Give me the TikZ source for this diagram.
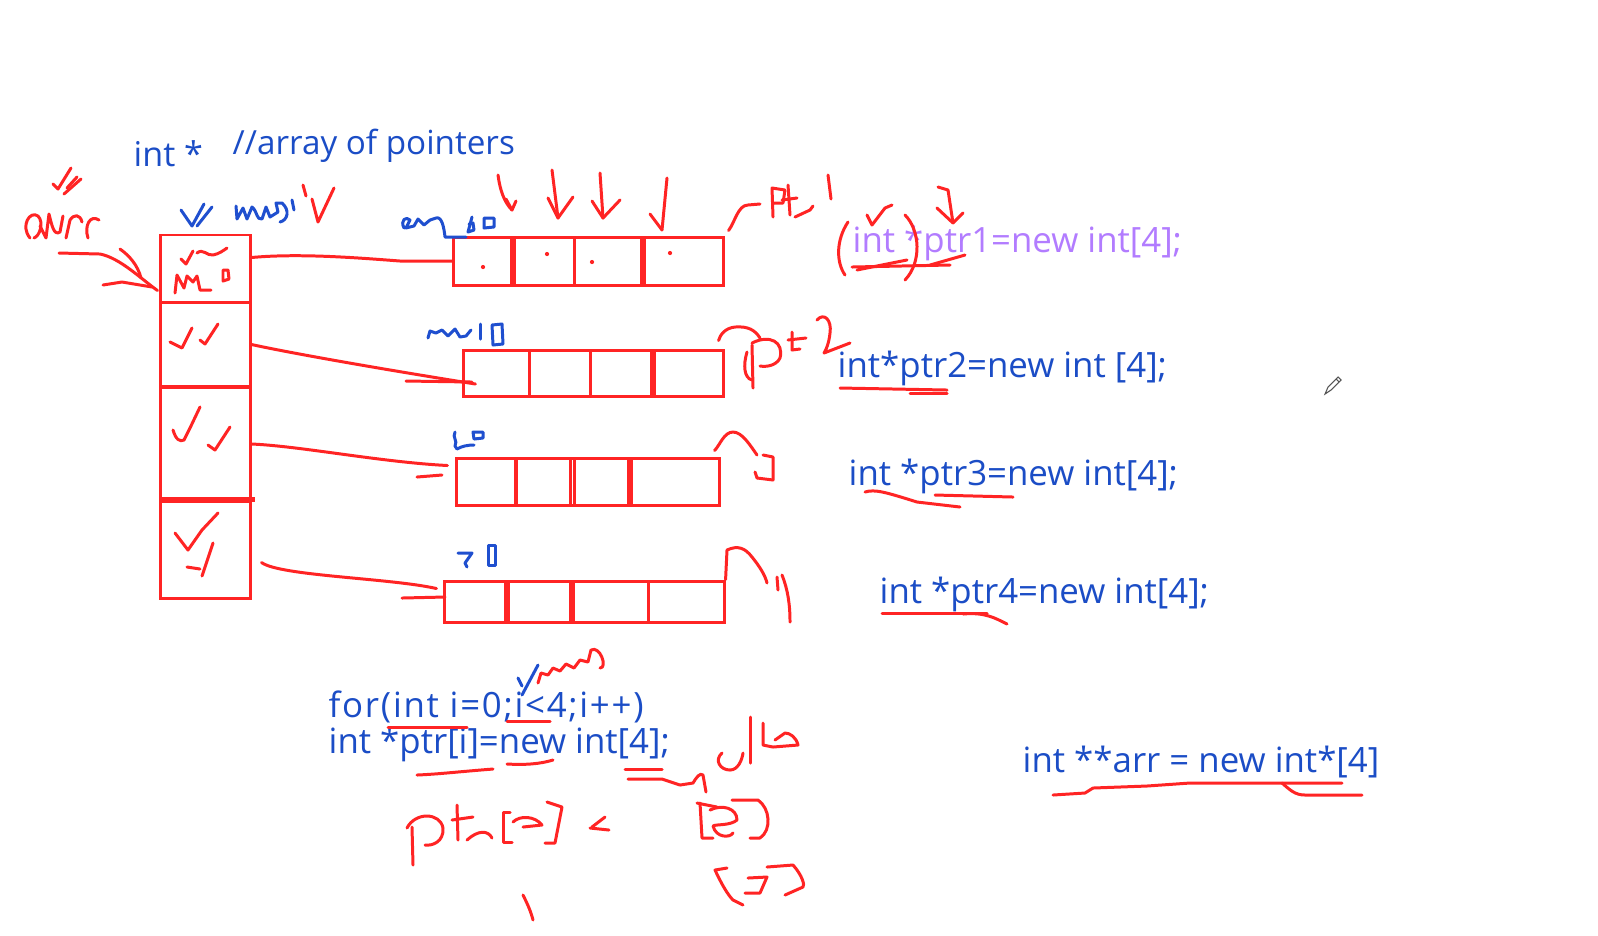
\documentclass[tikz,border=0pt]{standalone}
\usepackage{fontspec}
\setmainfont{Open Sans}
\usetikzlibrary{calc}
\definecolor{inkRed}{HTML}{FF2424}
\definecolor{inkBlue}{HTML}{1F4FCF}
\definecolor{codeBlue}{HTML}{1B4DC6}
\definecolor{codePurple}{HTML}{B27CFF}
\definecolor{cursorGray}{HTML}{555555}
\tikzset{
    cellbox/.style={draw=inkRed,line width=0.85pt,inner sep=0pt,minimum width=0.89cm},
    arraybox/.style={draw=inkRed,line width=0.85pt,inner sep=0pt},
    divider/.style={draw=inkRed,line width=0.85pt},
    ink/.style={draw=inkRed,line width=0.85pt,line cap=round,line join=round},
    blueink/.style={draw=inkBlue,line width=0.85pt,line cap=round,line join=round},
    codetext/.style={anchor=base west,inner sep=0pt,text=codeBlue,
        font=\fontsize{9.9}{12}\selectfont}
}
\begin{document}
\begin{tikzpicture}[x=0.01cm,y=-0.01cm]
    \useasboundingbox[fill=white] (0,0) rectangle (1598,935);

    % typed text
    \node[codetext,font=\fontsize{9.7}{12}\selectfont] (hdrInt) at (133,166) {int *};
    \node[codetext,font=\fontsize{9.45}{12}\selectfont] (hdrNote) at (232,154) {//array of pointers};
    \node[codetext,text=codePurple] (declOne) at (852,252) {int *ptr1=new int[4];};
    \node[codetext] (declTwo) at (837,377) {int*ptr2=new int [4];};
    \node[codetext] (declThree) at (848,485) {int *ptr3=new int[4];};
    \node[codetext] (declFour) at (879,603) {int *ptr4=new int[4];};
    \node[codetext,font=\fontsize{9.9}{12}\selectfont\addfontfeature{LetterSpace=5}] (loopHead) at (328,717) {for(int i=0;i<4;i++)};
    \node[codetext] (loopBody) at (328,753) {int *ptr[i]=new int[4];};
    \node[codetext] (arrDecl) at (1022,772) {int **arr = new int*[4]};

    % pointer column
    \node[cellbox,minimum height=0.67cm] (cellA) at (205.5,268.5) {};
    \node[cellbox,minimum height=0.85cm] (cellB) at (205.5,344.5) {};
    \node[cellbox,minimum height=1.14cm] (cellC) at (205.5,444) {};
    \node[cellbox,minimum height=0.97cm] (cellD) at (205.5,549.5) {};
    \draw[divider,line width=1.6pt] (cellD.north west) -- ($(cellD.north east)+(3,0)$);

    % int arrays
    \node[arraybox,minimum width=2.69cm,minimum height=0.48cm] (arrA) at (588.5,261) {};
    \node[arraybox,minimum width=2.59cm,minimum height=0.46cm] (arrB) at (593.5,373) {};
    \node[arraybox,minimum width=2.62cm,minimum height=0.47cm] (arrC) at (588,481.5) {};
    \node[arraybox,minimum width=2.79cm,minimum height=0.41cm] (arrD) at (584.5,601.5) {};
    \foreach \xd/\w in {513/1.8,574/0.85,643/1.8}
        \draw[divider,line width=\w pt] (\xd,237) -- (\xd,287);
    \foreach \xd/\w in {529/0.85,590/0.85,653/1.8}
        \draw[divider,line width=\w pt] (\xd,350) -- (\xd,398);
    \foreach \xd/\w in {516/1.2,570/0.85,574/0.85,630/1.8}
        \draw[divider,line width=\w pt] (\xd,458) -- (\xd,507);
    \foreach \xd/\w in {507/1.8,572/1.8,648/0.85}
        \draw[divider,line width=\w pt] (\xd,581) -- (\xd,622);
    \foreach \p in {(483,267),(547,254),(592,262),(670,253)}
        \fill[inkRed] \p circle[radius=0.6pt];

    % connectors
    \draw[ink] ($(cellA.east)+(0,-11)$) .. controls (300,253) and (360,258) .. (400,261) -- (arrA.west);
    \draw[ink] (cellB.east) .. controls (300,355) and (400,372) .. ($(arrB.west)+(13,11)$);
    \draw[ink] (406,381) -- (472,382);
    \draw[ink] (cellC.east) .. controls (300,446) and (380,462) .. ($(arrC.west)+(-8,-16)$);
    \draw[ink] (417,477) -- (442,475);
    \draw[ink] ($(cellD.east)+(10,13)$) .. controls (280,576) and (390,578) .. ($(arrD.west)+(-7,-13)$);
    \draw[ink] (402,598) -- (445,597);

    % arr label and arrow
    \draw[ink] (30,238) .. controls (20,226) and (30,210) .. (38,216) .. controls (44,222) and (40,236) .. (34,238);
    \draw[ink] (40,226) -- (46,238) -- (49,214) .. controls (52,226) and (54,236) .. (60,232) -- (63,216);
    \draw[ink] (66,238) -- (70,220) .. controls (74,214) and (80,214) .. (82,222);
    \draw[ink] (88,238) .. controls (84,226) and (90,214) .. (99,220);
    \draw[ink] (53,184) -- (58,189) -- (71,168);
    \draw[ink] (64,194) -- (81,179);
    \draw[ink] (67,188) -- (77,177);
    \draw[ink] (59,253) -- (100,254) .. controls (120,258) and (140,278) .. ($(cellA.south west)+(-2,-13)$);
    \draw[ink] (120,249) .. controls (130,256) and (138,266) .. (141,278);
    \draw[ink] (103,285) -- (122,282) -- (152,287);

    % rows note
    \draw[blueink] (181,210) -- (192,226) -- (204,204);
    \draw[blueink] (197,226) -- (212,207);
    \draw[blueink] (236,206) -- (237,219) -- (243,208) -- (247,219) -- (252,207) .. controls (258,212) and (256,220) .. (262,219) -- (266,207) -- (270,217) -- (278,212) -- (276,203) -- (282,203) .. controls (290,210) and (288,220) .. (280,222);
    \draw[blueink] (292,200) -- (294,210);
    \draw[ink] (303,185) -- (306,196);
    \draw[ink] (312,199) -- (318,222) -- (334,188);

    % marks in the column
    \draw[ink] (181,259) -- (186,264) -- (193,251);
    \draw[ink] (197,253) .. controls (203,248) and (207,256) .. (213,255) .. controls (219,254) and (224,250) .. (227,248);
    \draw[ink] (175,293) -- (177,275) -- (184,288) -- (187,276) -- (193,282) -- (197,276) -- (200,290) -- (211,290);
    \draw[ink] (223,270) -- (228,270) -- (229,279) -- (223,281) -- cycle;
    \draw[ink] (170,342) -- (182,348) -- (192,328);
    \draw[ink] (200,340) -- (205,344) -- (218,324);
    \draw[ink] (173,430) .. controls (176,440) and (180,442) .. (184,440) -- (190,428) -- (200,407);
    \draw[ink] (208,445) -- (215,450) -- (230,427);
    \draw[ink] (175,533) -- (188,550) -- (202,530) -- (218,513);
    \draw[ink] (187,567) -- (200,569);
    \draw[ink] (202,576) -- (213,543);

    % row 1 notes
    \draw[blueink] (404,228) .. controls (400,220) and (406,216) .. (410,220) -- (406,228) -- (414,226) -- (418,219) -- (424,225) -- (430,220) -- (436,218) .. controls (442,216) and (444,228) .. (445,237) -- (466,237);
    \draw[blueink] (472,217) -- (468,232) -- (474,230) -- (473,223) -- (469,224);
    \draw[blueink] (484,218) -- (494,218) -- (494,227) -- (484,228) -- cycle;
    \draw[ink] (498,175) .. controls (500,190) and (504,202) .. (512,210);
    \draw[ink] (506,199) -- (512,210) -- (516,201);
    \draw[ink] (552,170) -- (558,218);
    \draw[ink] (548,198) -- (558,218) -- (573,197);
    \draw[ink] (600,173) -- (603,218);
    \draw[ink] (592,201) -- (603,218) -- (620,200);
    \draw[ink] (667,178) -- (662,230);
    \draw[ink] (650,214) -- (662,230);
    \draw[ink] ($(arrA.north east)+(4,-5)$) .. controls (735,222) and (738,205) .. (748,205) -- (760,204);
    \draw[ink] (773,217) -- (772,188) -- (785,190) -- (783,203) -- (773,203);
    \draw[ink] (788,185) -- (790,215);
    \draw[ink] (782,200) -- (797,198);
    \draw[ink] (795,217) -- (810,210) -- (813,206);
    \draw[ink] (828,175) -- (831,199);

    % ptr1 marks
    \draw[ink] (848,222) .. controls (836,240) and (836,262) .. (845,275);
    \draw[ink] (867,215) -- (872,225) -- (885,208) -- (892,205);
    \draw[ink] (905,215) .. controls (920,230) and (922,262) .. (905,280);
    \draw[ink] (852,267) -- (950,265);
    \draw[ink] (857,270) -- (907,260);
    \draw[ink] (930,265) -- (965,255);
    \draw[ink] (938,187) -- (948,190) -- (953,223);
    \draw[ink] (937,208) -- (953,223) -- (963,213);

    % row 2 notes
    \draw[blueink] (428,338) -- (430,331) -- (436,333) -- (442,330) -- (448,336) -- (455,329) -- (460,337) -- (466,336) -- (471,330);
    \draw[blueink] (480,324) -- (480,339);
    \draw[blueink] (492,325) -- (502,324) -- (503,344) -- (493,345) -- cycle;
    \draw[ink] ($(arrB.north east)+(-6,-8)$) .. controls (720,335) and (725,328) .. (735,327) .. controls (748,326) and (755,330) .. (760,338);
    \draw[ink] (752,345) -- (753,388);
    \draw[ink] (747,352) .. controls (743,365) and (744,378) .. (752,380);
    \draw[ink] (752,343) .. controls (770,334) and (784,342) .. (780,358) .. controls (776,366) and (766,367) .. (760,366);
    \draw[ink] (792,332) -- (792,350) -- (800,349);
    \draw[ink] (788,340) -- (806,338);
    \draw[ink] (817,320) .. controls (824,312) and (832,320) .. (830,333) .. controls (829,343) and (826,350) .. (824,353) -- (850,343);

    % row 3 notes
    \draw[blueink] (455,432) .. controls (452,438) and (458,440) .. (455,446) -- (457,449) .. controls (462,446) and (468,445) .. (474,445);
    \draw[blueink] (473,432) -- (483,432) -- (483,438) -- (474,439) -- cycle;
    \draw[ink] ($(arrC.north east)+(-6,-6)$) .. controls (720,445) and (724,432) .. (733,432) .. controls (742,432) and (750,445) .. (757,455);
    \draw[ink] (763,455) -- (773,457) -- (773,480) -- (757,478);
    \draw[ink] (755,472) -- (757,478);

    % row 4 notes
    \draw[blueink] (458,553) -- (472,553) -- (465,563) -- (467,567);
    \draw[blueink] (488,545) -- (495,545) -- (495,565) -- (488,565) -- cycle;
    \draw[ink] (arrD.north east) -- (727,550) .. controls (738,545) and (745,548) .. (752,557) .. controls (760,567) and (765,575) .. (767,583);
    \draw[ink] (777,577) -- (778,590);
    \draw[ink] (782,575) .. controls (788,590) and (790,605) .. (790,622);

    % underlines
    \draw[ink] (840,388) -- (947,390);
    \draw[ink] (910,393) -- (947,393);
    \draw[ink] (865,492) .. controls (875,489) and (885,492) .. (917,502) -- (960,507);
    \draw[ink] (935,495) -- (1013,497);
    \draw[ink] (882,613) -- (987,613);
    \draw[ink] (963,614) .. controls (985,612) and (995,618) .. (1007,624);
    \draw[ink] (1053,795) -- (1085,793) -- (1093,788) -- (1147,786) -- (1190,783) -- (1342,783);
    \draw[ink] (1282,783) .. controls (1290,790) and (1295,795) .. (1305,795) -- (1362,795);

    % loop notes
    \draw[ink] (388,727) -- (467,727);
    \draw[ink] (507,721) -- (550,721);
    \draw[blueink] (538,665) -- (522,695);
    \draw[blueink] (518,678) -- (522,686);
    \draw[ink] (538,683) -- (541,673) -- (548,675) -- (553,668) -- (560,671) -- (566,664) -- (574,668) -- (580,660) -- (588,662) -- (591,650) .. controls (600,645) and (608,668) .. (600,668);
    \draw[ink] (417,775) .. controls (440,774) and (455,772) .. (493,769);
    \draw[ink] (507,764) .. controls (525,765) and (540,764) .. (553,760);
    \draw[ink] (625,769) -- (662,769);
    \draw[ink] (628,779) -- (662,779) -- (680,785) -- (693,783) .. controls (696,778) and (700,772) .. (703,775) -- (706,792);
    \draw[ink] (722,753) .. controls (714,760) and (720,770) .. (730,770) .. controls (738,770) and (742,760) .. (743,753);
    \draw[ink] (750,717) -- (750,763);
    \draw[ink] (763,723) -- (763,745) -- (773,747) -- (798,745) .. controls (796,737) and (790,733) .. (785,733) -- (775,740);
    \draw[ink] (412,827) -- (413,865);
    \draw[ink] (407,828) .. controls (415,812) and (440,812) .. (443,828) .. controls (444,842) and (432,846) .. (425,845);
    \draw[ink] (457,805) -- (458,840);
    \draw[ink] (452,820) -- (473,817);
    \draw[ink] (467,840) .. controls (478,830) and (488,830) .. (492,838);
    \draw[ink] (510,812) -- (503,812) -- (503,842) -- (512,842);
    \draw[ink] (513,822) .. controls (520,815) and (535,816) .. (542,825) -- (523,827);
    \draw[ink] (547,802) -- (562,807) -- (555,843) -- (545,843);
    \draw[ink] (590,828) -- (609,830);
    \draw[ink] (592,827) -- (605,817);
    \draw[ink] (697,803) -- (717,807);
    \draw[ink] (700,803) -- (702,838) -- (713,838);
    \draw[ink] (710,810) .. controls (722,804) and (737,808) .. (737,820) .. controls (730,826) and (715,824) .. (713,826) .. controls (716,838) and (730,838) .. (733,833);
    \draw[ink] (732,800) -- (758,800) .. controls (770,808) and (772,830) .. (760,838) -- (750,838);
    \draw[ink] (727,868) -- (715,870) .. controls (722,885) and (728,895) .. (733,900) -- (743,905);
    \draw[ink] (748,878) -- (767,877) -- (760,893) -- (745,893);
    \draw[ink] (767,867) -- (793,865) .. controls (802,875) and (805,885) .. (803,887) -- (785,895);
    \draw[ink] (523,895) .. controls (528,905) and (531,912) .. (533,920);

    % pen cursor
    \draw[cursorGray,line width=0.3pt] (1325,394) -- (1328,387) -- (1338,377) -- (1341,380) -- (1331,390) -- cycle;
    \draw[cursorGray,line width=0.3pt] (1336,379) -- (1339,382);
\end{tikzpicture}
\end{document}
